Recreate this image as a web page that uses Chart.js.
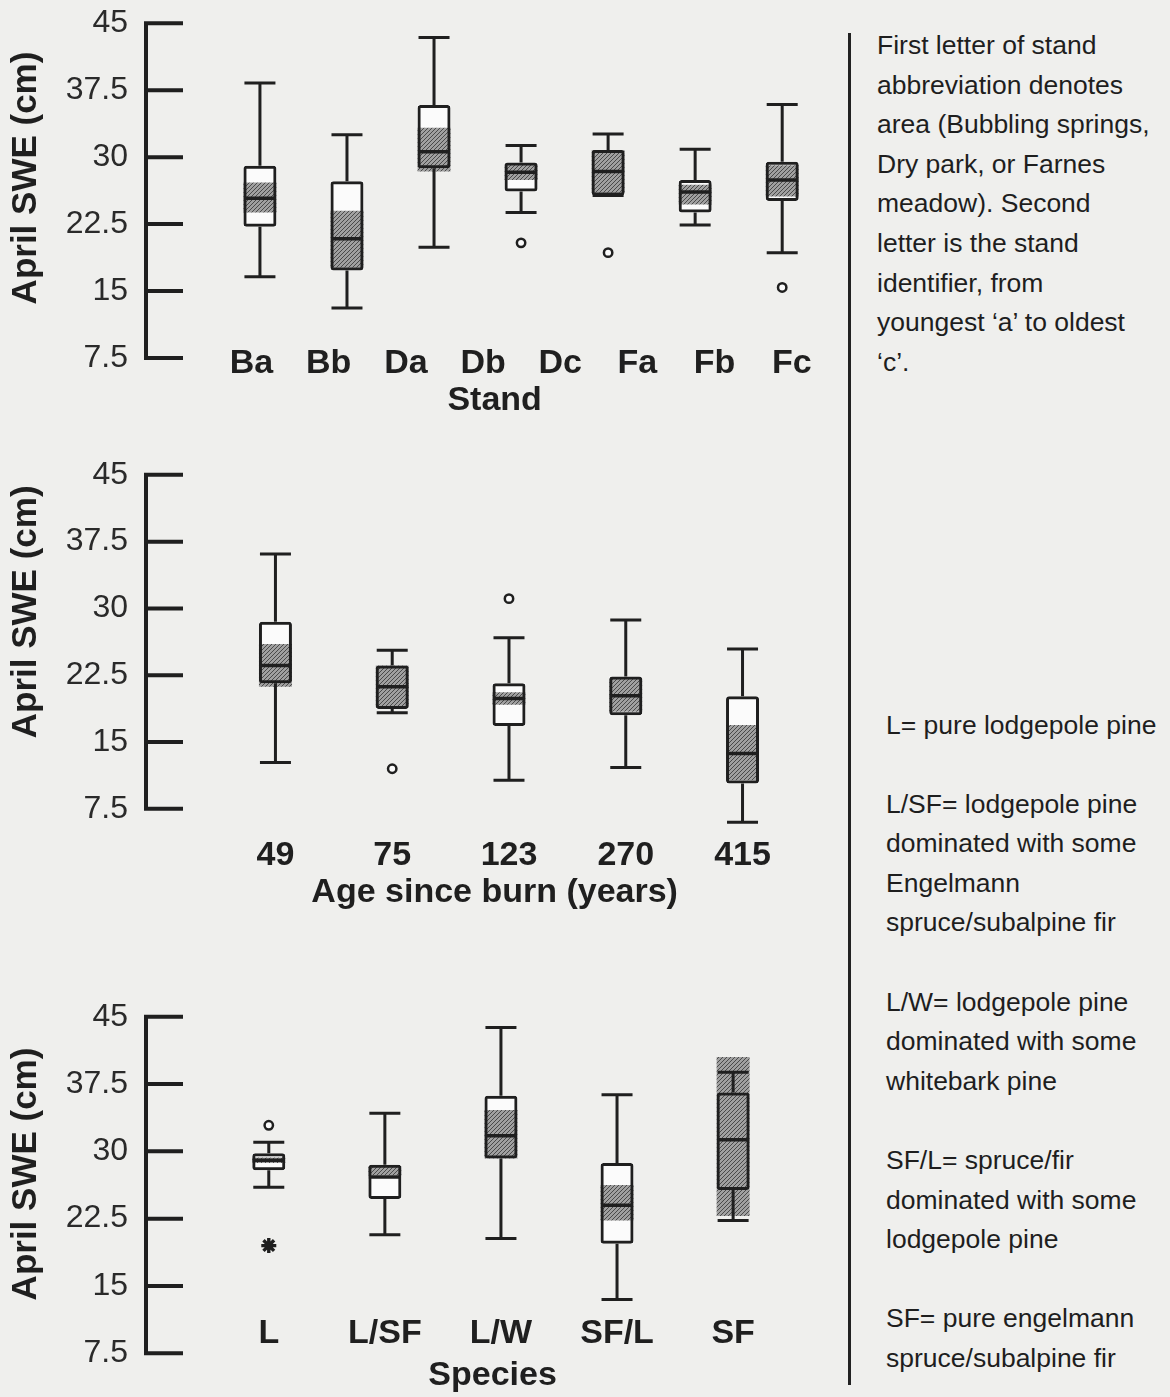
<!DOCTYPE html>
<html>
<head>
<meta charset="utf-8">
<script src="https://cdn.jsdelivr.net/npm/chart.js@4.4.1/dist/chart.umd.min.js"></script>
<style>
  html, body { margin: 0; padding: 0; background: #efefed; }
  body { width: 1170px; height: 1397px; position: relative; overflow: hidden; }
  canvas { position: absolute; left: 0; }
  .note {
    position: absolute;
    font-family: "Liberation Sans", Arial, Helvetica, sans-serif;
    font-size: 26.5px;
    line-height: 39.6px;
    color: #1e1e1e;
    white-space: nowrap;
  }
  #rule { position: absolute; left: 847.5px; top: 33px; width: 3px; height: 1352px; background: #222; }
</style>
</head>
<body>
<canvas id="standChart" width="850" height="440" style="top:0px"></canvas>
<canvas id="ageChart" width="850" height="500" style="top:440px"></canvas>
<canvas id="speciesChart" width="850" height="437" style="top:960px"></canvas>

<div id="rule"></div>
<div class="note" style="left:877px; top:26px">First letter of stand<br>abbreviation denotes<br>area (Bubbling springs,<br>Dry park, or Farnes<br>meadow). Second<br>letter is the stand<br>identifier, from<br>youngest ‘a’ to oldest<br>‘c’.</div>
<div class="note" style="left:886px; top:705.5px">L= pure lodgepole pine<br><br>L/SF= lodgepole pine<br>dominated with some<br>Engelmann<br>spruce/subalpine fir<br><br>L/W= lodgepole pine<br>dominated with some<br>whitebark pine<br><br>SF/L= spruce/fir<br>dominated with some<br>lodgepole pine<br><br>SF= pure engelmann<br>spruce/subalpine fir</div>

<script>
// ---- shared axis ticks (April SWE, cm) ----
const yTickValues = [7.5, 15, 22.5, 30, 37.5, 45];

// ---- panel 1: by stand ----
const standLabels = ['Ba', 'Bb', 'Da', 'Db', 'Dc', 'Fa', 'Fb', 'Fc'];
const standWhiskerLow  = [16.6, 13.1, 19.9, 23.8, 25.7, 22.4, 19.3];
const standQ1          = [22.2, 17.3, 28.75, 26.15, 25.7, 23.8, 25.1];
const standCiLow       = [23.8, 17.6, 28.4, 27.45, 26.0, 24.7, 25.6];
const standMedian      = [25.4, 20.85, 30.6, 28.3, 28.4, 26.1, 27.45];
const standCiHigh      = [27.15, 24.0, 33.3, 29.2, 30.8, 26.9, 29.1];
const standQ3          = [29.05, 27.3, 35.85, 29.4, 30.8, 27.45, 29.5];
const standWhiskerHigh = [38.3, 32.5, 43.4, 31.3, 32.6, 30.9, 35.9];
const standOutlierBox   = [3, 4, 6];
const standOutlierValue = [20.4, 19.3, 15.4];

// ---- panel 2: by age since burn ----
const ageLabels = ['49', '75', '123', '270', '415'];
const ageWhiskerLow  = [12.7, 18.3, 10.7, 12.15, 6.0];
const ageQ1          = [21.6, 18.7, 16.8, 18.0, 10.35];
const ageCiLow       = [21.2, 18.9, 19.2, 18.4, 10.7];
const ageMedian      = [23.6, 21.2, 19.9, 20.2, 13.7];
const ageCiHigh      = [26.0, 23.6, 20.6, 22.1, 16.9];
const ageQ3          = [28.5, 23.6, 21.6, 22.35, 20.15];
const ageWhiskerHigh = [36.1, 25.3, 26.7, 28.7, 25.45];
const ageOutlierBox   = [1, 2, 2, 3];
const ageOutlierValue = [12.0, 31.1, 9.4, 8.1];

// ---- panel 3: by species composition ----
const speciesLabels = ['L', 'L/SF', 'L/W', 'SF/L', 'SF'];
const speciesWhiskerLow  = [26.0, 20.7, 20.3, 13.5, 22.3];
const speciesQ1          = [27.9, 24.7, 29.2, 19.7, 25.7];
const speciesCiLow       = [28.7, 27.3, 29.2, 22.3, 22.8];
const speciesMedian      = [29.0, 27.15, 31.75, 24.0, 31.3];
const speciesCiHigh      = [29.3, 28.3, 34.6, 26.25, 40.5];
const speciesQ3          = [29.8, 28.5, 36.2, 28.7, 36.55];
const speciesWhiskerHigh = [31.0, 34.25, 43.8, 36.3, 38.8];
const speciesOutlierBox   = [0];
const speciesOutlierValue = [32.9];
const speciesExtremeBox   = [0];
const speciesExtremeValue = [19.5];

// ---- styling ----
const INK = '#1f1f1f';
const SANS = '"Liberation Sans", Arial, Helvetica, sans-serif';
Chart.defaults.font.family = SANS;
Chart.defaults.color = INK;

function hatchPattern() {
  const c = document.createElement('canvas');
  c.width = 4; c.height = 4;
  const g = c.getContext('2d');
  g.fillStyle = '#a0a0a0';
  g.fillRect(0, 0, 4, 4);
  g.fillStyle = '#4a4a4a';
  for (let i = 0; i < 4; i++) g.fillRect(i, 3 - i, 1, 1);
  return g.createPattern(c, 'repeat');
}
const HATCH = hatchPattern();

// whiskers, medians and the inward-ticked value axis
function boxPlotPlugin(s) {
  return {
    id: 'boxPlot',
    afterDatasetsDraw(chart) {
      const ctx = chart.ctx;
      const xs = chart.scales.x, ys = chart.scales.y;
      const py = v => ys.getPixelForValue(v);
      ctx.save();
      ctx.strokeStyle = INK;
      ctx.lineCap = 'butt';

      // value axis line with ticks pointing into the plot
      const x0 = chart.chartArea.left;
      const vMin = yTickValues[0], vMax = yTickValues[yTickValues.length - 1];
      ctx.lineWidth = 4;
      ctx.beginPath();
      ctx.moveTo(x0, py(vMax) - 2);
      ctx.lineTo(x0, py(vMin) + 2);
      yTickValues.forEach(v => { ctx.moveTo(x0, py(v)); ctx.lineTo(x0 + 37, py(v)); });
      ctx.stroke();

      ctx.lineWidth = 3;
      s.median.forEach((m, i) => {
        const px = xs.getPixelForValue(i);
        ctx.beginPath();
        // upper whisker
        ctx.moveTo(px, py(s.q3[i])); ctx.lineTo(px, py(s.high[i]));
        ctx.moveTo(px - 15.5, py(s.high[i])); ctx.lineTo(px + 15.5, py(s.high[i]));
        // lower whisker
        ctx.moveTo(px, py(s.q1[i])); ctx.lineTo(px, py(s.low[i]));
        ctx.moveTo(px - 15.5, py(s.low[i])); ctx.lineTo(px + 15.5, py(s.low[i]));
        ctx.stroke();
        // median
        ctx.lineWidth = 3.5;
        ctx.beginPath();
        ctx.moveTo(px - 16, py(m)); ctx.lineTo(px + 16, py(m));
        ctx.stroke();
        ctx.lineWidth = 3;
      });
      ctx.restore();
    }
  };
}

function makePanel(canvasId, s, p) {
  const idx = s.median.map((_, i) => i);
  const range = (a, b) => idx.map(i => ({ x: i, y: [a[i], b[i]] }));
  const points = (boxes, vals) => boxes.map((b, k) => ({ x: b, y: vals[k] }));
  const barCommon = { type: 'bar', xAxisID: 'x', yAxisID: 'y', grouped: false, barThickness: 33, clip: false, inflateAmount: 0 };

  const datasets = [
    Object.assign({}, barCommon, { data: range(s.q1, s.q3), backgroundColor: '#fbfbfb', borderWidth: 0, order: 4 }),
    Object.assign({}, barCommon, { data: range(s.ciLow, s.ciHigh), backgroundColor: HATCH, borderWidth: 0, order: 3 }),
    Object.assign({}, barCommon, { data: range(s.q1, s.q3), backgroundColor: 'rgba(0,0,0,0)', borderColor: INK,
      borderWidth: 3, borderRadius: 3, borderSkipped: false, order: 2 }),
    { type: 'scatter', xAxisID: 'x', yAxisID: 'y', clip: false, order: 1,
      data: points(s.outBox, s.outVal), pointStyle: 'circle', pointRadius: 4.2, pointBorderWidth: 2.5,
      pointBackgroundColor: '#fbfbfb', pointBorderColor: INK }
  ];
  if (s.extBox) {
    datasets.push({ type: 'scatter', xAxisID: 'x', yAxisID: 'y', clip: false, order: 0,
      data: points(s.extBox, s.extVal), pointStyle: 'star', pointRadius: 7.5, pointBorderWidth: 3.4,
      pointBorderColor: INK, pointBackgroundColor: INK });
  }

  const labelFont = { family: SANS, size: 34, weight: 'bold' };
  const labelAxis = (labels, min, max) => ({
    type: 'linear', position: 'bottom', axis: 'x', min, max, offset: false,
    afterBuildTicks: a => { a.ticks = labels.map((_, i) => ({ value: i })); },
    ticks: { autoSkip: false, maxRotation: 0, minRotation: 0, padding: p.labelPad,
      callback: (v, i) => labels[i], font: labelFont, color: INK },
    grid: { display: false, drawTicks: false },
    border: { display: false },
    title: { display: true, text: p.title, font: labelFont, color: INK, padding: { top: 0, bottom: p.titlePad } },
    afterFit: a => { a.height = p.xHeight; a.paddingLeft = 0; a.paddingRight = 0; a.paddingTop = 0; a.paddingBottom = 0; }
  });

  const scales = {};
  if (p.labelAxis) {
    scales.x = { type: 'linear', min: p.xMin, max: p.xMax, offset: false, display: false };
    scales.xl = labelAxis(p.labelAxis.labels, p.labelAxis.min, p.labelAxis.max);
  } else {
    scales.x = labelAxis(p.labels, p.xMin, p.xMax);
  }
  scales.y = {
    type: 'linear', min: p.yMin, max: p.yMax, beginAtZero: false,
    afterBuildTicks: a => { a.ticks = yTickValues.map(v => ({ value: v })); },
    ticks: { autoSkip: false, padding: 18, callback: v => String(v),
      font: { family: SANS, size: 32 }, color: '#2a2a2a' },
    grid: { display: false, drawTicks: false },
    border: { display: false },
    title: { display: true, text: 'April SWE (cm)', color: INK,
      font: { family: SANS, size: 35, weight: 'bold' }, padding: { top: 5, bottom: 0 } },
    afterFit: a => { a.width = 146; a.paddingTop = 0; a.paddingBottom = 0; a.paddingLeft = 0; a.paddingRight = 0; }
  };

  return new Chart(document.getElementById(canvasId), {
    type: 'bar',
    data: { datasets },
    options: {
      responsive: false,
      animation: false,
      devicePixelRatio: 1,
      layout: { padding: { top: p.top, left: 0, right: 0, bottom: 0 } },
      plugins: { legend: { display: false }, tooltip: { enabled: false } },
      scales
    },
    plugins: [boxPlotPlugin(s)]
  });
}

makePanel('standChart', {
  low: standWhiskerLow, q1: standQ1, ciLow: standCiLow, median: standMedian,
  ciHigh: standCiHigh, q3: standQ3, high: standWhiskerHigh,
  outBox: standOutlierBox, outVal: standOutlierValue
}, {
  top: 10, xMin: -1.309, xMax: 6.702, yMin: 8.843, yMax: 46.49,
  labelAxis: { labels: standLabels, min: -1.3666, max: 7.667 },
  xHeight: 94, labelPad: -2.4, title: 'Stand', titlePad: 18.6
});

makePanel('ageChart', {
  low: ageWhiskerLow, q1: ageQ1, ciLow: ageCiLow, median: ageMedian,
  ciHigh: ageCiHigh, q3: ageQ3, high: ageWhiskerHigh,
  outBox: ageOutlierBox, outVal: ageOutlierValue
}, {
  top: 5, xMin: -1.1086, xMax: 4.863, yMin: 11.075, yMax: 48.161,
  labels: ageLabels, xHeight: 163, labelPad: 58.6, title: 'Age since burn (years)', titlePad: 26.6
});

makePanel('speciesChart', {
  low: speciesWhiskerLow, q1: speciesQ1, ciLow: speciesCiLow, median: speciesMedian,
  ciHigh: speciesCiHigh, q3: speciesQ3, high: speciesWhiskerHigh,
  outBox: speciesOutlierBox, outVal: speciesOutlierValue,
  extBox: speciesExtremeBox, extVal: speciesExtremeValue
}, {
  top: 78, xMin: -1.0577, xMax: 4.913, yMin: 12.324, yMax: 42.627,
  labels: speciesLabels, xHeight: 87, labelPad: 3, title: 'Species', titlePad: 0.6
});
</script>
</body>
</html>
